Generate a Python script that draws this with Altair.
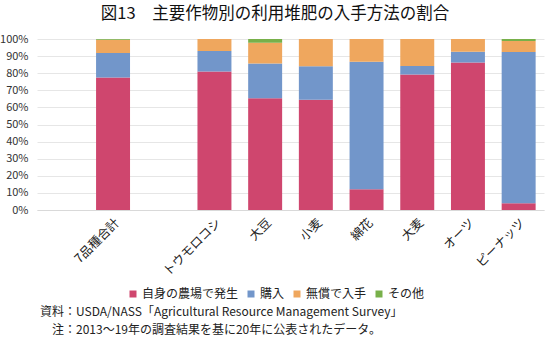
import altair as alt
import pandas as pd

# ---- data ----
categories = [" ", "7品種合計", "  ", "トウモロコシ", "大豆", "小麦", "綿花", "大麦", "オーツ", "ピーナッツ"]
crops = ["7品種合計", "トウモロコシ", "大豆", "小麦", "綿花", "大麦", "オーツ", "ピーナッツ"]
own_farm = [77.5, 81.0, 65.3, 64.5, 12.1, 79.3, 86.3, 3.9]
purchased = [14.3, 12.0, 20.3, 19.5, 74.6, 4.9, 6.3, 88.5]
free = [7.7, 7.0, 12.2, 16.0, 13.3, 15.8, 7.4, 6.4]
other = [0.5, 0.0, 2.2, 0.0, 0.0, 0.0, 0.0, 1.2]
series = ["自身の農場で発生", "購入", "無償で入手", "その他"]
colors = ["#CF466E", "#7296CA", "#EFA75E", "#78B04A"]
y_ticks = [0, 0.1, 0.2, 0.3, 0.4, 0.5, 0.6, 0.7, 0.8, 0.9, 1.0]

title_text = ["図13　主要作物別の利用堆肥の入手方法の割合"]
source_text = ["資料：USDA/NASS「Agricultural Resource Management Survey」"]
note_text = ["注：2013～19年の調査結果を基に20年に公表されたデータ。"]

FONT = "Noto Sans CJK JP"

rows = []
for vals, s_i in zip([own_farm, purchased, free, other], range(4)):
    for c, v in zip(crops, vals):
        rows.append({"crop": c, "series": series[s_i], "order": s_i, "value": v})
df = pd.DataFrame(rows)

W, H = 507, 171

bars = alt.Chart(df).mark_bar().encode(
    x=alt.X("crop:N", scale=alt.Scale(domain=categories, paddingInner=0.33, paddingOuter=0.165),
            axis=alt.Axis(title=None, labelAngle=-45, labelFontSize=12.5, labelColor="#222",
                          labelFont=FONT, ticks=False, domainColor="#d9d9d9", labelPadding=6)),
    y=alt.Y("value:Q", stack="normalize",
            scale=alt.Scale(domain=[0, 1], nice=False),
            axis=alt.Axis(title=None, values=y_ticks, format=".0%", labelFontSize=11,
                          labelColor="#333", labelFont=FONT, ticks=False, domain=False,
                          gridColor="#e6e6e6", labelPadding=9)),
    color=alt.Color("series:N", scale=alt.Scale(domain=series, range=colors),
                    legend=alt.Legend(title=None, orient="none", direction="horizontal",
                                      legendX=90, legendY=249, columns=4, columnPadding=6,
                                      symbolType="square", symbolSize=49, symbolStrokeWidth=0,
                                      labelFontSize=12, labelFont=FONT, labelColor="#222",
                                      labelOffset=3, padding=0)),
    order=alt.Order("order:Q", sort="ascending"),
)

title = alt.Chart(pd.DataFrame({"t": title_text})).mark_text(
    fontSize=16.5, font=FONT, fontWeight="normal", color="#111", align="center", baseline="middle"
).encode(text="t:N", x=alt.value(275 - 37), y=alt.value(14 - 39))

src = alt.Chart(pd.DataFrame({"t": source_text})).mark_text(
    fontSize=12, font=FONT, color="#222", align="left", baseline="middle"
).encode(text="t:N", x=alt.value(40 - 37), y=alt.value(312 - 39))

note = alt.Chart(pd.DataFrame({"t": note_text})).mark_text(
    fontSize=12, font=FONT, color="#222", align="left", baseline="middle"
).encode(text="t:N", x=alt.value(52 - 37), y=alt.value(330 - 39))

chart = alt.layer(bars, title, src, note).properties(
    width=W, height=H,
    autosize=alt.AutoSizeParams(type="none"),
    padding={"left": 37, "top": 39, "right": 6, "bottom": 134},
    background="white",
).configure_view(stroke=None)

chart.save("out.html", embed_options={"renderer": "svg", "actions": False})
